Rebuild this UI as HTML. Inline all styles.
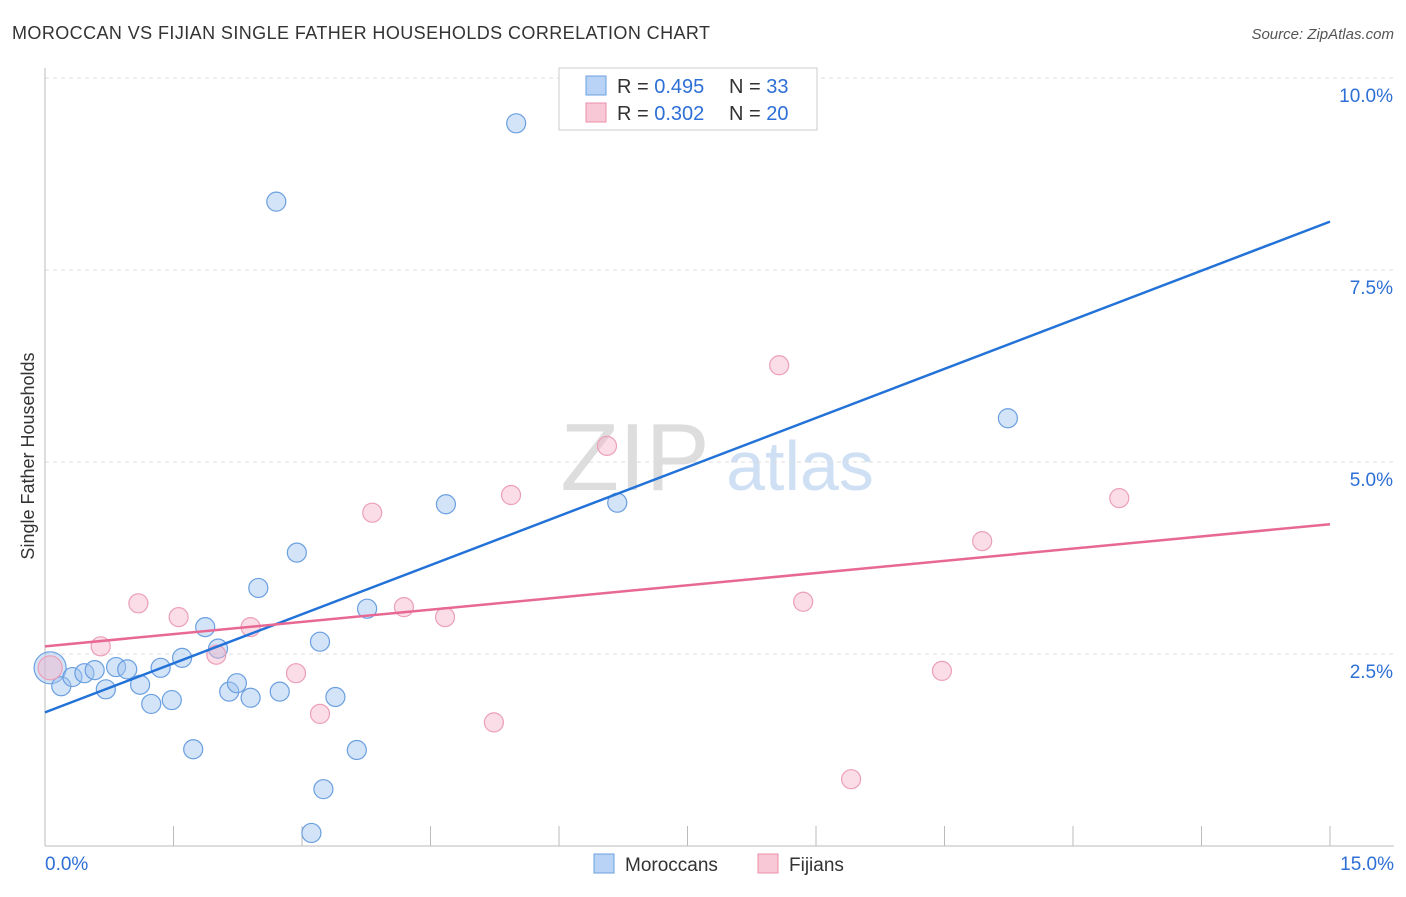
<!DOCTYPE html>
<html><head><meta charset="utf-8"><style>
body{margin:0;background:#fff;font-family:"Liberation Sans",sans-serif;}
svg text{font-family:"Liberation Sans",sans-serif;}
</style></head><body>
<svg id="c" width="1406" height="892">
<text x="12" y="39" font-size="18" fill="#333" textLength="698">MOROCCAN VS FIJIAN SINGLE FATHER HOUSEHOLDS CORRELATION CHART</text>
<text x="1394" y="39" font-size="15" fill="#555" font-style="italic" text-anchor="end">Source: ZipAtlas.com</text>
<text x="34" y="456" font-size="18" fill="#333" text-anchor="middle" transform="rotate(-90 34 456)">Single Father Households</text>
<text x="635" y="490" font-size="96" fill="#ddd" font-family="Liberation Serif" text-anchor="middle">ZIP</text>
<text x="800" y="490" font-size="70" fill="#cfe0f5" text-anchor="middle">atlas</text>
<g id="grid"></g><g id="pts"></g><g id="lines"></g>
<g>
<rect x="559" y="68" width="258" height="62" fill="#fff" stroke="#ccc"/>
<rect x="586" y="76" width="20" height="19" fill="#b8d3f5" stroke="#6a9fe0"/>
<rect x="586" y="103" width="20" height="19" fill="#f9c8d6" stroke="#ec8fab"/>
<text x="617" y="93" font-size="20" fill="#333">R = <tspan fill="#2d6fd6">0.495</tspan></text>
<text x="729" y="93" font-size="20" fill="#333">N = <tspan fill="#2d6fd6">33</tspan></text>
<text x="617" y="120" font-size="20" fill="#333">R = <tspan fill="#2d6fd6">0.302</tspan></text>
<text x="729" y="120" font-size="20" fill="#333">N = <tspan fill="#2d6fd6">20</tspan></text>
</g>
<g>
<rect x="594" y="854" width="20" height="19" fill="#b8d3f5" stroke="#6a9fe0"/>
<text x="625" y="871" font-size="19" fill="#333">Moroccans</text>
<rect x="758" y="854" width="20" height="19" fill="#f9c8d6" stroke="#ec8fab"/>
<text x="789" y="871" font-size="19" fill="#333">Fijians</text>
</g>
</svg>
<script>
const blueX=[0.06,0.19,0.32,0.46,0.58,0.71,0.83,0.96,1.11,1.24,1.35,1.48,1.60,1.73,1.87,2.02,2.15,2.24,2.40,2.49,2.70,2.74,2.94,3.11,3.21,3.25,3.39,3.64,3.76,4.68,5.50,6.68,11.24];
const blueY=[2.32,2.08,2.20,2.25,2.29,2.04,2.33,2.30,2.10,1.85,2.32,1.90,2.45,1.26,2.85,2.57,2.01,2.12,1.93,3.36,8.39,2.01,3.82,0.17,2.66,0.74,1.94,1.25,3.09,4.45,9.41,4.47,5.57];
const pinkX=[0.06,0.65,1.09,1.56,2.00,2.40,2.93,3.21,3.82,4.19,4.67,5.24,5.44,6.56,8.57,8.85,9.41,10.47,10.94,12.54];
const pinkY=[2.32,2.60,3.16,2.98,2.49,2.85,2.25,1.72,4.34,3.11,2.98,1.61,4.57,5.21,6.26,3.18,0.87,2.28,3.97,4.53];
const blueTrend=[1.74,8.13];
const pinkTrend=[2.60,4.19];
const yTicks=[2.5,5.0,7.5,10.0];
const xTickLabels=["0.0%","15.0%"];
const NS="http://www.w3.org/2000/svg";
const sx=v=>45+v/15*1285, sy=v=>846-v/10*768;
function mk(t,a,p){const e=document.createElementNS(NS,t);for(const k in a)e.setAttribute(k,a[k]);p.appendChild(e);return e;}
const g=document.getElementById('grid');
yTicks.forEach(t=>{
 const l=mk('line',{x1:45,x2:1394,y1:sy(t),y2:sy(t),stroke:'#ddd','stroke-dasharray':'4 4'},g);
 
 
 const tx=mk('text',{x:1393,y:sy(t)+24,'font-size':19,fill:'#2d6fd6','text-anchor':'end'},g);
 tx.textContent=t.toFixed(1)+'%';
 
 
});
mk('line',{x1:45,x2:45,y1:68,y2:846,stroke:'#bbb'},g);
mk('line',{x1:45,x2:1394,y1:846,y2:846,stroke:'#bbb'},g);
for(let i=1;i<=10;i++){const x=sx(i*1.5);mk('line',{x1:x,x2:x,y1:826,y2:846,stroke:'#bbb'},g);}
const xl=mk('text',{x:45,y:870,'font-size':19,fill:'#2d6fd6'},g);xl.textContent=xTickLabels[0];


const xr=mk('text',{x:1394,y:870,'font-size':19,fill:'#2d6fd6','text-anchor':'end'},g);xr.textContent=xTickLabels[1];


const p=document.getElementById('pts');
blueX.forEach((x,i)=>{const c=mk('circle',{cx:sx(x),cy:sy(blueY[i]),r:i==0?16:9.5,fill:'rgba(160,195,240,0.45)',stroke:'#6a9fe0','stroke-width':1.2},p);
 
 });
pinkX.forEach((x,i)=>{const c=mk('circle',{cx:sx(x),cy:sy(pinkY[i]),r:i==0?12:9.5,fill:'rgba(245,180,200,0.45)',stroke:'#ec9fb8','stroke-width':1.2},p);
 
 });
const L=document.getElementById('lines');
const bl=mk('line',{x1:sx(0),y1:sy(blueTrend[0]),x2:sx(15),y2:sy(blueTrend[1]),stroke:'#2272d8','stroke-width':2.5},L);


const pl=mk('line',{x1:sx(0),y1:sy(pinkTrend[0]),x2:sx(15),y2:sy(pinkTrend[1]),stroke:'#e86894','stroke-width':2.5},L);


</script>
</body></html>
